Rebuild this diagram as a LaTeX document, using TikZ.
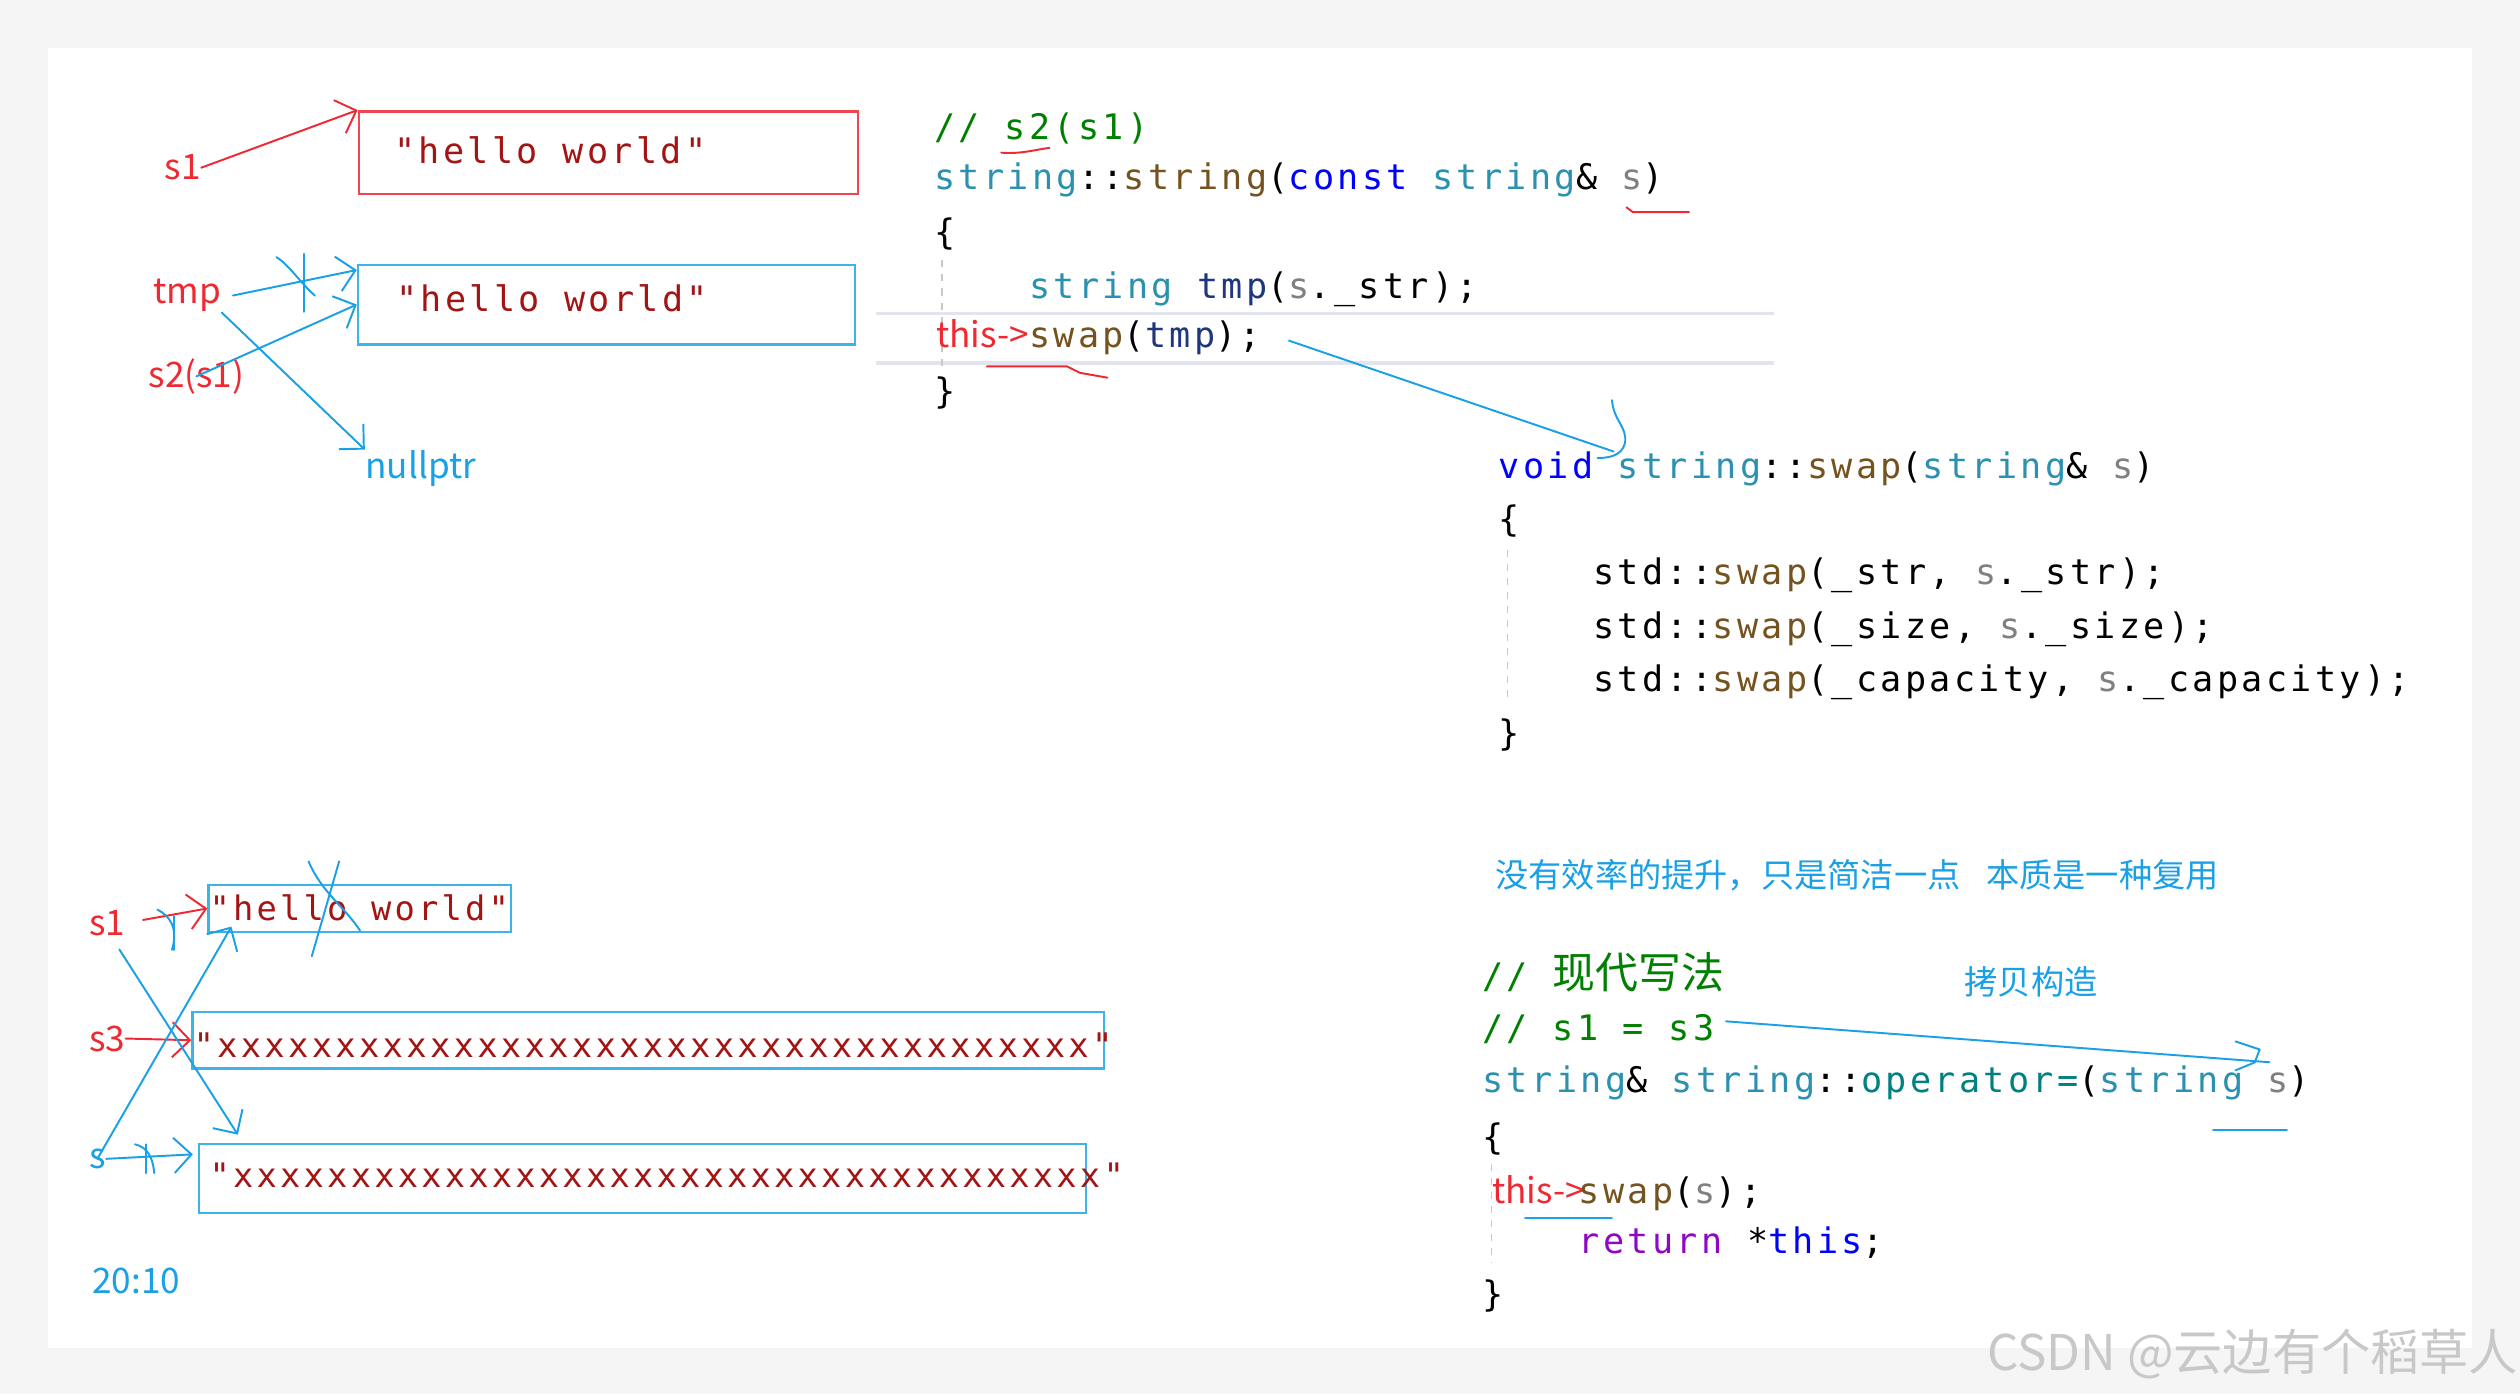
\documentclass[tikz,border=0pt]{standalone}
\usepackage{fontspec}
\setmonofont{DejaVu Sans Mono}[LetterSpace=9.5]
\newfontfamily\cjk{Noto Sans CJK SC}
\usetikzlibrary{arrows.meta,calc}

\definecolor{vscom}{RGB}{0,128,0}
\definecolor{vskey}{RGB}{0,0,255}
\definecolor{vstype}{RGB}{43,145,175}
\definecolor{vsfunc}{RGB}{116,83,31}
\definecolor{vspar}{RGB}{128,128,128}
\definecolor{vsvar}{RGB}{31,55,127}
\definecolor{vsstr}{RGB}{163,21,21}
\definecolor{vsret}{RGB}{143,8,196}
\definecolor{vsop}{RGB}{0,128,128}
\definecolor{annred}{RGB}{240,40,50}
\definecolor{annblue}{RGB}{25,160,230}
\definecolor{boxred}{RGB}{240,70,80}
\definecolor{boxblue}{RGB}{60,180,234}
\definecolor{hiline}{RGB}{228,228,238}
\definecolor{vsguide}{RGB}{200,200,200}
\definecolor{outer}{RGB}{245,245,245}
\definecolor{wmark}{RGB}{200,200,200}

\newcommand\codefont{\ttfamily\fontsize{10}{12}\selectfont}
\newcommand\annfont{\cjk\fontsize{10}{12}\selectfont}
\newcommand\cCom[1]{\textcolor{vscom}{#1}}
\newcommand\cKey[1]{\textcolor{vskey}{#1}}
\newcommand\cType[1]{\textcolor{vstype}{#1}}
\newcommand\cFunc[1]{\textcolor{vsfunc}{#1}}
\newcommand\cPar[1]{\textcolor{vspar}{#1}}
\newcommand\cVar[1]{\textcolor{vsvar}{#1}}
\newcommand\cRet[1]{\textcolor{vsret}{#1}}
\newcommand\cOp[1]{\textcolor{vsop}{#1}}
\newcommand\xrow{xxxxxxxxxx}

\begin{document}
\begin{tikzpicture}[x=0.01607cm, y=-0.01607cm, >={Straight Barb[length=5pt,width=10pt]},
codeln/.style={anchor=base west, inner sep=0pt, font=\codefont},
annot/.style={anchor=base west, inner sep=0pt, font=\annfont, text=#1},
membox/.style={draw=#1, anchor=north west, inner sep=0pt, line width=0.7pt},
inkline/.style={draw=#1, line width=0.55pt, line cap=round, line join=round},
guide/.style={draw=vsguide, line width=0.5pt, dash pattern=on 2pt off 2pt}]
% page
\fill[outer] (0,0) rectangle (1568,867.4);
\fill[white] (30,30) rectangle (1538,839);
\useasboundingbox (0,0) rectangle (1568,867.4);
\draw[hiline, line width=1pt] (545,195) -- (1104,195);
\draw[hiline, line width=1pt] (545,226) -- (1104,226);
\draw[guide] (586,162) -- (586,232);
\draw[guide] (938,342) -- (938,437);
\draw[guide] (928,724) -- (928,786);

% copy constructor
\node[codeln] (c1) at (581,87) {\cCom{// s2(s1)}};
\node[codeln] (c2) at (581,118) {\cType{string}::\cFunc{string}(\cKey{const} \cType{string}\& \cPar{s})};
\node[codeln] (c3) at (581,152) {\{};
\node[codeln] (c4) at (640,185.6) {\cType{string} \cVar{tmp}(\cPar{s}.\_str);};
\node[annot=annred] (this1) at (582,216) {this->};
\node[codeln] (c5) at (640,216) {\cFunc{swap}(\cVar{tmp});};
\node[codeln] (c6) at (581,251) {\}};

% swap
\node[codeln] (v1) at (932,298) {\cKey{void} \cType{string}::\cFunc{swap}(\cType{string}\& \cPar{s})};
\node[codeln] (v2) at (932,331) {\{};
\node[codeln] (v3) at (991,364) {std::\cFunc{swap}(\_str, \cPar{s}.\_str);};
\node[codeln] (v4) at (991,397) {std::\cFunc{swap}(\_size, \cPar{s}.\_size);};
\node[codeln] (v5) at (991,430) {std::\cFunc{swap}(\_capacity, \cPar{s}.\_capacity);};
\node[codeln] (v6) at (932,464) {\}};

\node[annot=annblue, font=\cjk\fontsize{9.45}{11}\selectfont] (remark) at (930,552)
  {没有效率的提升，只是简洁一点\hspace{0.257cm}本质是一种复用};

% operator=
\node[codeln] (m1) at (922,615) {\cCom{// {\cjk\fontsize{12.2}{14}\selectfont 现代写法}}};
\node[annot=annblue, font=\cjk\fontsize{9.45}{11}\selectfont] (copyctor) at (1222,619) {拷贝构造};
\node[codeln] (m2) at (922,647.6) {\cCom{// s1 = s3}};
\node[codeln] (m3) at (922,680) {\cType{string}\& \cType{string}::\cOp{operator=}(\cType{string} \cPar{s})};
\node[codeln] (m4) at (922,715) {\{};
\node[annot=annred] (this2) at (928,749) {this->};
\node[codeln] (m5) at (982,749) {\cFunc{swap}(\cPar{s});};
\node[codeln] (m6) at (982,780) {\cRet{return} *\cKey{this};};
\node[codeln] (m7) at (922,813) {\}};

% memory, top
\node[membox=boxred, minimum width=4.99cm, minimum height=0.828cm] (hw1) at (222.5,68.5) {};
\node[codeln, text=vsstr] at (245,101.6) {"hello world"};
\node[membox=boxblue, minimum width=4.966cm, minimum height=0.795cm] (hw2) at (222,164) {};
\node[codeln, text=vsstr] at (246,194) {"hello world"};
\node[annot=annred] (s1lbl) at (102,112) {s1};
\node[annot=annred] (tmplbl) at (95,189) {tmp};
\node[annot=annred] (s2lbl) at (92,241) {s2(s1)};
\node[annot=annblue] (nullp) at (227,297.6) {nullptr};

\draw[inkline=annred,->] (s1lbl.east) -- (hw1.north west);
\draw[inkline=annblue,->] ($(tmplbl.east)+(7,0)$) -- ($(hw2.north west)+(0,4)$);
\draw[inkline=annblue,->] (s2lbl.center) -- (hw2.west);
\draw[inkline=annblue,->] (tmplbl.south east) -- (nullp.north west);
\draw[inkline=annblue] (189,158) -- (189,194);
\draw[inkline=annblue] (172,160) .. controls (180,165) and (186,175) .. (196,184);

\draw[inkline=annred] (623,95) .. controls (635,96) and (645,93) .. (653,92);
\draw[inkline=annred] (1012,129) -- (1016,132) -- (1051,132);
\draw[inkline=annred] (614,228) -- (664,228) -- (672,232) -- (689,235);
\draw[inkline=annblue] ($(c5.east)+(17,2)$) -- ($(v1.north west)+(72,0)$);
\draw[inkline=annblue] (1003,249) .. controls (1004,262) and (1013,266) .. (1011,276)
  .. controls (1009,284) and (1000,285) .. (994,285);
\draw[inkline=annblue] ($(m2.east)+(7,-5)$) -- ($(m3.north west)+(490,-2)$);
\draw[inkline=annblue] (1391,648) -- (1406,653) -- (1403,661) -- (1391,666);
\draw[inkline=annblue] (1377,703) -- (1423,703);
\draw[inkline=annblue] (949,758) -- (1003,758);

% memory, bottom
\node[membox=boxblue, minimum width=3.021cm, minimum height=0.466cm] (bhw) at (129,550) {};
\node[codeln, text=vsstr, font=\ttfamily\fontsize{9.6}{12}\selectfont] at (130,572.5) {"hello world"};
\node[membox=boxblue, minimum width=9.112cm, minimum height=0.562cm] (bx3) at (119,629) {};
\node[codeln, text=vsstr, font=\ttfamily\fontsize{9.65}{12}\selectfont] at (120,657.7) {"\xrow\xrow\xrow xxxxxxx"};
\node[membox=boxblue, minimum width=8.871cm, minimum height=0.691cm] (bxs) at (123,711) {};
\node[codeln, text=vsstr, font=\ttfamily\fontsize{9.6}{12}\selectfont] at (130,739) {"\xrow\xrow\xrow xxxxxxx"};
\node[annot=annred] (bs1) at (55,582) {s1};
\node[annot=annred] (bs3) at (55,654) {s3};
\node[annot=annblue] (bs) at (55,727) {s};
\node[annot=annblue] (clock) at (57,805) {20:10};

\draw[inkline=annred,->,shorten <=5pt] (bs1.east) -- (bhw.west);
\draw[inkline=annred,->] (bs3.east) -- (bx3.west);
\draw[inkline=annblue,->] (bs.east) -- ($(bxs.west)+(-3,-15)$);
\draw[inkline=annblue,->] ($(bs1.south east)+(-4,8)$) -- ($(bxs.north west)+(25,-5)$);
\draw[inkline=annblue,->] (bs.center) -- ($(bhw.south west)+(15,-4)$);
\draw[inkline=annblue] (98,566) .. controls (106,570) and (111,578) .. (107,591);
\draw[inkline=annblue] (108,570) -- (108,591);
\draw[inkline=annblue] (192,536) .. controls (200,555) and (215,565) .. (224,579);
\draw[inkline=annblue] (211,536) -- (194,595);
\draw[inkline=annblue] (91,712) -- (91,730);
\draw[inkline=annblue] (84,712) .. controls (92,714) and (95,720) .. (96,730);

\node[anchor=base west, inner sep=0pt, font=\cjk\fontsize{14}{16}\selectfont, text=wmark] (wm) at (1236,853) {CSDN @云边有个稻草人};
\end{tikzpicture}
\end{document}
